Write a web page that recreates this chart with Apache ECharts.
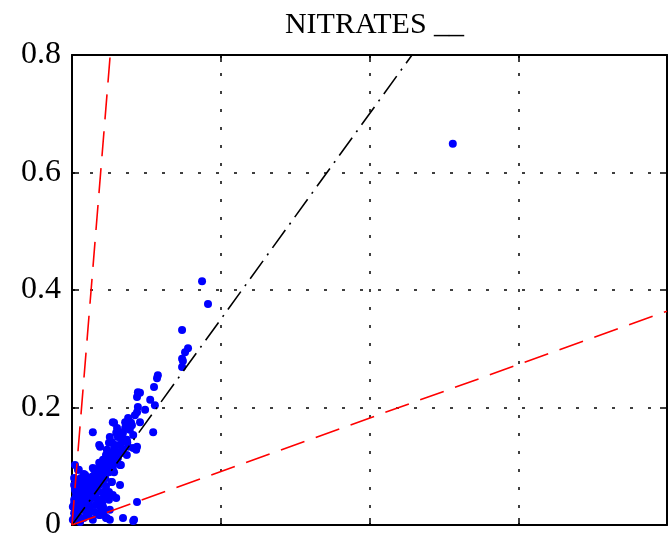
<!DOCTYPE html>
<html>
<head>
<meta charset="utf-8">
<script src="https://cdn.jsdelivr.net/npm/echarts@6/dist/echarts.min.js"></script>
<style>
  html, body { margin: 0; padding: 0; background: #fff; }
  #chart { width: 672px; height: 542px; }
</style>
</head>
<body>
<div id="chart"></div>
<script>
// Nitrate concentration pairs (x vs y)
const obsX = [
  0.896, 0.306, 0.320, 0.259, 0.273, 0.266, 0.259, 0.261, 0.259, 0.202,
  0.200, 0.193, 0.155, 0.160, 0.153, 0.184, 0.195, 0.155, 0.153, 0.148,
  0.132, 0.125, 0.136, 0.160, 0.096, 0.049, 0.113, 0.120, 0.108, 0.129,
  0.191, 0.089, 0.094, 0.101, 0.066, 0.153, 0.144, 0.082, 0.096, 0.113,
  0.073, 0.089, 0.106, 0.066, 0.082, 0.113, 0.014, 0.049, 0.059, 0.031,
  0.047, 0.094, 0.073, 0.113, 0.019, 0.035, 0.059, 0.049, 0.073, 0.096,
  0.082, 0.031, 0.014, 0.007, 0.153, 0.071, 0.073, 0.035, 0.019, 0.012,
  0.089, 0.059, 0.066, 0.120, 0.144, 0.082, 0.089, 0.007, 0.012, 0.019,
  0.099, 0.139, 0.104, 0.115, 0.127, 0.144, 0.064, 0.087, 0.099, 0.111,
  0.132, 0.151, 0.080, 0.096, 0.120, 0.064, 0.075, 0.087, 0.104, 0.115,
  0.016, 0.052, 0.061, 0.073, 0.087, 0.033, 0.045, 0.028, 0.092, 0.064,
  0.080, 0.009, 0.021, 0.033, 0.061, 0.087, 0.104, 0.087, 0.049, 0.040,
  0.056, 0.005, 0.002, 0.014, 0.026, 0.068, 0.075, 0.064, 0.005, 0.016,
  0.002, 0.028, 0.080, 0.146, 0.049, 0.024, 0.033, 0.042, 0.047, 0.054,
  0.066, 0.038, 0.009, 0.019, 0.028, 0.009, 0.005, 0.038, 0.052, 0.078,
  0.054, 0.085, 0.071, 0.096, 0.108, 0.125, 0.136, 0.118, 0.106, 0.172,
  0.129, 0.026, 0.042, 0.056, 0.066, 0.075, 0.021, 0.005, 0.005, 0.007,
  0.012, 0.019, 0.026, 0.031, 0.038, 0.045, 0.052, 0.059, 0.068, 0.078,
  0.014, 0.024, 0.035, 0.042, 0.049, 0.057, 0.066, 0.082, 0.094, 0.101,
  0.009, 0.017, 0.028, 0.040, 0.111, 0.122, 0.141, 0.118, 0.130, 0.099
];
const obsY = [
  0.649, 0.415, 0.376, 0.332, 0.301, 0.294, 0.283, 0.279, 0.269, 0.255,
  0.250, 0.235, 0.226, 0.225, 0.218, 0.213, 0.204, 0.201, 0.192, 0.187,
  0.182, 0.175, 0.175, 0.175, 0.175, 0.158, 0.158, 0.157, 0.150, 0.145,
  0.158, 0.150, 0.141, 0.136, 0.133, 0.133, 0.131, 0.128, 0.124, 0.123,
  0.111, 0.111, 0.111, 0.099, 0.102, 0.102, 0.094, 0.097, 0.089, 0.085,
  0.082, 0.073, 0.073, 0.068, 0.073, 0.071, 0.065, 0.060, 0.056, 0.051,
  0.048, 0.054, 0.056, 0.060, 0.039, 0.037, 0.031, 0.031, 0.034, 0.037,
  0.026, 0.020, 0.017, 0.012, 0.007, 0.012, 0.009, 0.014, 0.009, 0.005,
  0.174, 0.174, 0.157, 0.150, 0.145, 0.153, 0.136, 0.140, 0.131, 0.124,
  0.133, 0.128, 0.119, 0.116, 0.123, 0.106, 0.107, 0.102, 0.106, 0.102,
  0.094, 0.094, 0.085, 0.089, 0.090, 0.080, 0.073, 0.071, 0.073, 0.068,
  0.065, 0.056, 0.054, 0.056, 0.056, 0.056, 0.046, 0.043, 0.046, 0.039,
  0.034, 0.043, 0.031, 0.031, 0.037, 0.029, 0.022, 0.017, 0.020, 0.014,
  0.009, 0.012, 0.012, 0.009, 0.009, 0.026, 0.022, 0.029, 0.051, 0.063,
  0.077, 0.063, 0.048, 0.046, 0.049, 0.026, 0.036, 0.017, 0.022, 0.080,
  0.073, 0.114, 0.097, 0.097, 0.114, 0.165, 0.162, 0.141, 0.165, 0.196,
  0.119, 0.063, 0.068, 0.046, 0.043, 0.048, 0.080, 0.068, 0.080, 0.102,
  0.022, 0.029, 0.041, 0.046, 0.053, 0.061, 0.068, 0.078, 0.087, 0.094,
  0.041, 0.051, 0.058, 0.053, 0.065, 0.075, 0.084, 0.097, 0.109, 0.119,
  0.063, 0.070, 0.087, 0.075, 0.136, 0.146, 0.170, 0.129, 0.141, 0.090
];

// Reference lines through the origin: y = slope * x
const guideSlopes = [1, 8.9, 0.26];
const guideColors = ['#000000', '#ff0000', '#ff0000'];
const guideDash = [[22, 7, 2, 7], [25, 12], [25, 12]];

const yTickLabels = ['0', '0.2', '0.4', '0.6', '0.8'];
const chartTitle = 'NITRATES __';

const X_MAX = 1.4, X_STEP = 0.35, Y_MAX = 0.8, Y_STEP = 0.2;
const serif = "'Liberation Serif', 'Times New Roman', 'DejaVu Serif', serif";

const points = obsX.map((x, i) => [x, obsY[i]]);

const guideSeries = guideSlopes.map((s, i) => {
  const xEnd = Math.min(X_MAX, Y_MAX / s);
  return {
    type: 'line',
    data: [[0, 0], [xEnd, s * xEnd]],
    showSymbol: false,
    symbol: 'none',
    clip: true,
    silent: true,
    z: 5,
    lineStyle: { color: guideColors[i], width: 1.6, type: guideDash[i] }
  };
});

const chart = echarts.init(document.getElementById('chart'), null, { renderer: 'canvas' });

const axisLine = { show: true, onZero: false, lineStyle: { color: '#000', width: 2 } };
const tickIn = { show: true, inside: true, length: 7, lineStyle: { color: '#000', width: 1.5 } };
const dottedGrid = { show: true, lineStyle: { color: '#000', width: 1.5, type: [3, 15] } };

chart.setOption({
  animation: false,
  backgroundColor: '#fff',
  title: {
    text: chartTitle,
    left: 72 + 595 / 2,
    textAlign: 'center',
    top: 5,
    textStyle: { fontFamily: serif, fontSize: 30, fontWeight: 'normal', color: '#000' }
  },
  grid: { left: 72, top: 55, width: 595, height: 470, containLabel: false },
  xAxis: [
    {
      type: 'value', min: 0, max: X_MAX, interval: X_STEP, position: 'bottom',
      axisLine, axisTick: tickIn, axisLabel: { show: false }, splitLine: dottedGrid
    },
    {
      type: 'value', min: 0, max: X_MAX, interval: X_STEP, position: 'top',
      axisLine, axisTick: tickIn, axisLabel: { show: false }, splitLine: { show: false }
    }
  ],
  yAxis: [
    {
      type: 'value', min: 0, max: Y_MAX, interval: Y_STEP, position: 'left',
      axisLine, axisTick: tickIn,
      axisLabel: {
        show: true, margin: 11, color: '#000', fontFamily: serif, fontSize: 32,
        formatter: (v) => yTickLabels[Math.round(v / Y_STEP)]
      },
      splitLine: dottedGrid
    },
    {
      type: 'value', min: 0, max: Y_MAX, interval: Y_STEP, position: 'right',
      axisLine, axisTick: tickIn, axisLabel: { show: false }, splitLine: { show: false }
    }
  ],
  series: [
    {
      type: 'scatter',
      data: points,
      symbol: 'circle',
      symbolSize: 8,
      z: 3,
      itemStyle: { color: '#0000ff', opacity: 1 }
    },
    ...guideSeries
  ]
});
</script>
</body>
</html>
